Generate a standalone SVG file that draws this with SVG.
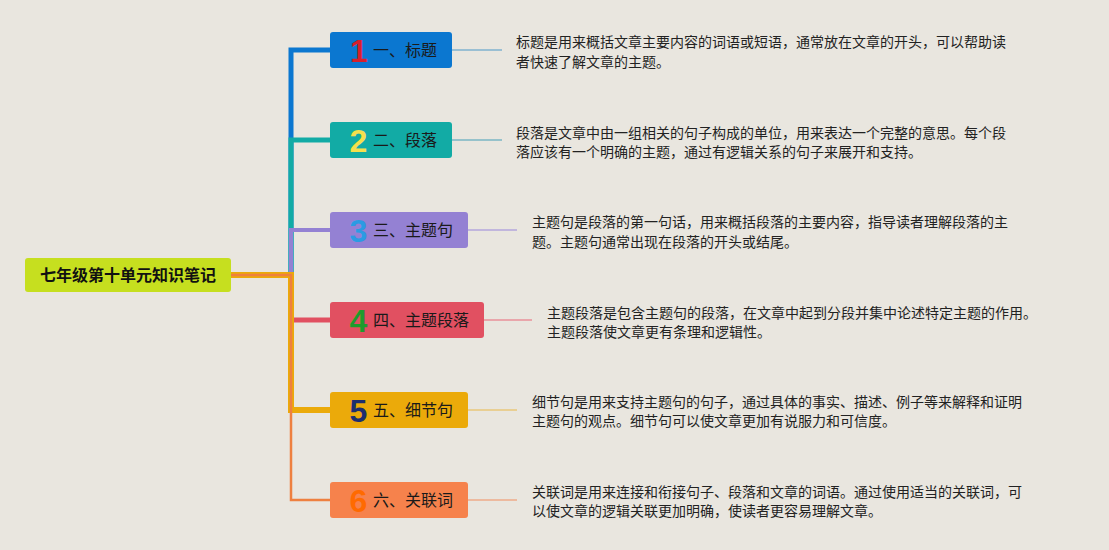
<svg xmlns="http://www.w3.org/2000/svg" width="1109" height="550" viewBox="0 0 1109 550">
<style>
.lbl{font-family:"Noto Sans CJK SC","Noto Sans",sans-serif;font-size:16px;fill:#1a1a1a}
.num{font-family:"Liberation Sans","DejaVu Sans",sans-serif;font-size:32px;font-weight:bold;text-anchor:middle}
.note{font-family:"Noto Sans CJK SC","Noto Sans",sans-serif;font-size:14px;fill:#222}
.br{fill:none;stroke-linejoin:miter}
.tl{fill:none;stroke-width:1.6}
</style>
<rect width="1109" height="550" fill="#e9e6df"/>
<g id="connectors">
<path class="br" d="M231,275 H291 V50 H331" stroke="#0b77d0" stroke-width="5"/>
<path class="br" d="M231,275 H291 V140 H331" stroke="#12aba5" stroke-width="5"/>
<path class="br" d="M231,275 H291 V230 H331" stroke="#9481d3" stroke-width="4"/>
<path class="br" d="M231,275 H291 V320 H331" stroke="#e15061" stroke-width="5"/>
<path class="br" d="M231,275 H291 V410 H331" stroke="#ebaa0a" stroke-width="6"/>
<path class="br" d="M231,275 H291 V500 H331" stroke="#ee8040" stroke-width="2.5"/>
<line class="tl" x1="452" y1="50" x2="502" y2="50" stroke="#7fb2cf"/>
<line class="tl" x1="452" y1="140" x2="502" y2="140" stroke="#7ab6c4"/>
<line class="tl" x1="468" y1="230" x2="517" y2="230" stroke="#b3a6dc"/>
<line class="tl" x1="484" y1="320" x2="532" y2="320" stroke="#e8909a"/>
<line class="tl" x1="468" y1="410" x2="517" y2="410" stroke="#e9c77a"/>
<line class="tl" x1="468" y1="500" x2="517" y2="500" stroke="#eeab8a"/>
</g>
<g id="root">
<rect x="25" y="258" width="206" height="34" rx="3" fill="#c6df1f"/>
<text x="128" y="281" text-anchor="middle" font-family="'Noto Sans CJK SC','Noto Sans',sans-serif" font-size="16" font-weight="bold" fill="#111">七年级第十单元知识笔记</text>
</g>
<g id="node1">
<rect x="330" y="32" width="122" height="36" rx="3" fill="#0b77d0"/>
<text class="num" x="359" y="62" fill="#d71f2c">1</text>
<text class="lbl" x="373" y="56">一、标题</text>
</g>
<g id="node2">
<rect x="330" y="122" width="122" height="36" rx="3" fill="#12aba5"/>
<text class="num" x="358.5" y="152" fill="#f4e04d">2</text>
<text class="lbl" x="373" y="146">二、段落</text>
</g>
<g id="node3">
<rect x="330" y="212" width="138" height="36" rx="3" fill="#9481d3"/>
<text class="num" x="358.5" y="242" fill="#2b9be3">3</text>
<text class="lbl" x="373" y="236">三、主题句</text>
</g>
<g id="node4">
<rect x="330" y="302" width="154" height="36" rx="3" fill="#e15061"/>
<text class="num" x="358.5" y="332" fill="#1e9b2c">4</text>
<text class="lbl" x="373" y="326">四、主题段落</text>
</g>
<g id="node5">
<rect x="330" y="392" width="138" height="36" rx="3" fill="#ebaa0a"/>
<text class="num" x="358.5" y="422" fill="#1d2f6f">5</text>
<text class="lbl" x="373" y="416">五、细节句</text>
</g>
<g id="node6">
<rect x="330" y="482" width="138" height="36" rx="3" fill="#f6824c"/>
<text class="num" x="358.5" y="512" fill="#ff6a00">6</text>
<text class="lbl" x="373" y="506">六、关联词</text>
</g>
<g id="note1">
<text class="note" x="516" y="47">标题是用来概括文章主要内容的词语或短语，通常放在文章的开头，可以帮助读</text>
<text class="note" x="516" y="67">者快速了解文章的主题。</text>
</g>
<g id="note2">
<text class="note" x="516" y="138">段落是文章中由一组相关的句子构成的单位，用来表达一个完整的意思。每个段</text>
<text class="note" x="516" y="157">落应该有一个明确的主题，通过有逻辑关系的句子来展开和支持。</text>
</g>
<g id="note3">
<text class="note" x="532" y="227">主题句是段落的第一句话，用来概括段落的主要内容，指导读者理解段落的主</text>
<text class="note" x="532" y="247">题。主题句通常出现在段落的开头或结尾。</text>
</g>
<g id="note4">
<text class="note" x="547" y="318">主题段落是包含主题句的段落，在文章中起到分段并集中论述特定主题的作用。</text>
<text class="note" x="547" y="337">主题段落使文章更有条理和逻辑性。</text>
</g>
<g id="note5">
<text class="note" x="532" y="407">细节句是用来支持主题句的句子，通过具体的事实、描述、例子等来解释和证明</text>
<text class="note" x="532" y="426">主题句的观点。细节句可以使文章更加有说服力和可信度。</text>
</g>
<g id="note6">
<text class="note" x="532" y="497">关联词是用来连接和衔接句子、段落和文章的词语。通过使用适当的关联词，可</text>
<text class="note" x="532" y="516">以使文章的逻辑关联更加明确，使读者更容易理解文章。</text>
</g>
</svg>
